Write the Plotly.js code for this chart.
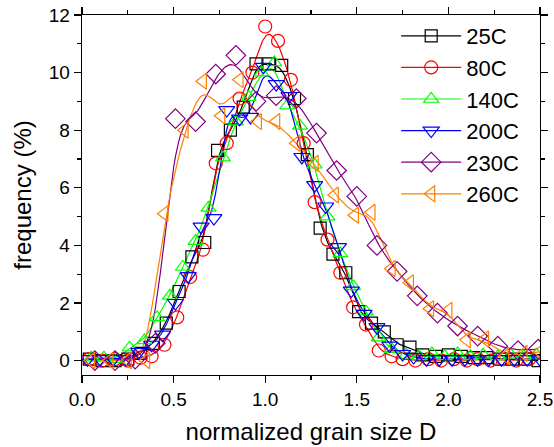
<!DOCTYPE html>
<html>
<head>
<meta charset="utf-8">
<script src="https://cdn.plot.ly/plotly-3.0.1.min.js"></script>
<style>html,body{margin:0;padding:0;background:#fff;}#chart{width:554px;height:447px;}</style>
</head>
<body>
<div id="chart"></div>
<script>
// ---- data ----
const seriesNames = ["25C", "80C", "140C", "200C", "230C", "260C"];

const x25 = [0.04,0.11,0.18,0.25,0.32,0.39,0.46,0.53,0.60,0.67,0.74,0.81,0.88,0.95,1.02,1.09,1.16,1.23,1.30,1.37,1.44,1.51,1.58,1.65,1.72,1.79,1.86,1.93,2.00,2.07,2.14,2.21,2.28,2.35,2.42,2.49];
const y25 = [0.05,0.0,0.0,0.05,0.25,0.6,1.3,2.4,3.6,4.1,7.3,8.0,8.8,10.3,10.3,10.25,9.1,7.15,4.6,3.7,3.05,1.7,1.3,1.0,0.55,0.47,0.2,0.15,0.2,0.15,0.1,0.1,0.05,0.05,0.05,0.0];

const x80 = [0.04,0.11,0.18,0.25,0.32,0.38,0.45,0.52,0.59,0.66,0.73,0.79,0.86,0.93,1.00,1.07,1.14,1.21,1.27,1.34,1.41,1.48,1.55,1.62,1.69,1.75,1.82,1.89,1.96,2.03,2.10,2.16,2.23,2.30,2.37,2.44];
const y80 = [0.05,0.0,0.05,0.0,0.1,0.15,0.55,1.5,2.9,3.85,6.85,7.55,9.1,10.0,11.6,11.1,9.75,7.55,5.5,4.2,3.05,1.85,1.25,0.35,0.15,0.05,0.0,0.05,0.0,0.05,0.0,0.05,0.0,0.05,0.0,0.05];

const x140 = [0.05,0.12,0.19,0.26,0.34,0.41,0.48,0.55,0.62,0.69,0.77,0.84,0.91,0.98,1.05,1.12,1.19,1.27,1.34,1.41,1.48,1.55,1.62,1.69,1.77,1.84,1.91,1.98,2.05,2.12,2.19,2.27,2.34,2.41,2.48];
const y140 = [0.1,0.1,0.05,0.45,0.7,1.5,2.25,3.25,4.15,5.3,7.05,8.3,9.15,10.0,10.35,8.85,8.15,6.8,5.0,3.72,2.58,1.7,0.8,0.4,0.2,0.15,0.25,0.15,0.25,0.15,0.2,0.15,0.2,0.15,0.2];

const x200 = [0.03,0.10,0.17,0.24,0.31,0.38,0.44,0.51,0.58,0.65,0.72,0.79,0.86,0.92,0.99,1.06,1.13,1.20,1.27,1.33,1.40,1.47,1.54,1.61,1.68,1.75,1.81,1.88,1.95,2.02,2.09,2.16,2.22,2.29,2.36,2.43,2.50];
const y200 = [0.05,0.05,0.05,0.05,0.3,0.55,0.9,2.0,2.93,4.65,4.95,8.7,8.4,8.46,10.2,9.6,9.18,7.07,6.09,5.35,3.94,2.43,1.62,1.16,0.52,0.23,0.12,0.05,0.05,0.05,0.05,0.05,0.05,0.05,0.05,0.05,0.05];

const x230 = [0.07,0.18,0.29,0.40,0.51,0.62,0.73,0.84,0.95,1.06,1.17,1.28,1.39,1.50,1.61,1.72,1.83,1.94,2.05,2.16,2.27,2.38,2.49];
const y230 = [0.0,0.0,0.05,0.6,8.4,8.3,9.95,10.6,9.0,9.2,9.1,7.9,6.6,5.7,4.0,3.1,2.25,1.65,1.2,0.85,0.5,0.35,0.4];

const x260 = [0.05,0.15,0.25,0.35,0.45,0.56,0.66,0.76,0.86,0.96,1.06,1.17,1.27,1.38,1.49,1.58,1.69,1.79,1.90,2.00,2.10,2.20,2.31,2.41,2.50];
const y260 = [0.0,0.0,0.0,0.0,5.1,8.0,9.7,8.5,9.75,8.3,8.3,7.55,6.85,5.75,5.05,5.15,3.2,2.7,1.8,1.75,0.72,0.75,0.15,0.25,0.3];

const xTickVals = [0, 0.5, 1.0, 1.5, 2.0, 2.5];
const yTickVals = [0, 2, 4, 6, 8, 10, 12];

// ---- styles ----
const colors = ["#000000", "#ff0000", "#00ff00", "#0000ff", "#800080", "#ff8000"];
const symbols = ["square-open", "circle-open", "triangle-up-open", "triangle-down-open", "diamond-open", "triangle-left-open"];
const msizes = [12, 13, 13, 14, 15, 14];

// uniform cubic B-spline (clamped by tripled end points) using the data as control polygon
function bspline(xs, ys, per) {
  const px = [xs[0], xs[0]].concat(xs, [xs[xs.length-1], xs[xs.length-1]]);
  const py = [ys[0], ys[0]].concat(ys, [ys[ys.length-1], ys[ys.length-1]]);
  const ox = [], oy = [];
  for (let i = 0; i + 3 < px.length; i++) {
    for (let s = 0; s < per; s++) {
      const t = s / per, t2 = t*t, t3 = t2*t;
      const b0 = (1 - t)*(1 - t)*(1 - t)/6;
      const b1 = (3*t3 - 6*t2 + 4)/6;
      const b2 = (-3*t3 + 3*t2 + 3*t + 1)/6;
      const b3 = t3/6;
      ox.push(b0*px[i] + b1*px[i+1] + b2*px[i+2] + b3*px[i+3]);
      oy.push(b0*py[i] + b1*py[i+1] + b2*py[i+2] + b3*py[i+3]);
    }
  }
  ox.push(xs[xs.length-1]); oy.push(ys[ys.length-1]);
  return [ox, oy];
}

const allX = [x25, x80, x140, x200, x230, x260];
const allY = [y25, y80, y140, y200, y230, y260];

const traces = [];
for (let i = 0; i < 6; i++) {
  const c = bspline(allX[i], allY[i], 12);
  traces.push({x: c[0], y: c[1], mode: "lines", line: {color: colors[i], width: 1.2}, showlegend: false, hoverinfo: "skip"});
}
for (let i = 0; i < 6; i++) {
  traces.push({x: allX[i], y: allY[i], mode: "markers", showlegend: false,
    marker: {symbol: symbols[i], size: msizes[i], color: colors[i], line: {width: 1.2, color: colors[i]}}});
}
for (let i = 0; i < 6; i++) {
  traces.push({x: [null], y: [null], name: seriesNames[i], mode: "lines+markers",
    line: {color: colors[i], width: 1.2},
    marker: {symbol: symbols[i], size: msizes[i], color: colors[i], line: {width: 1.2, color: colors[i]}}});
}

const font = "Liberation Sans, Arial, sans-serif";
const axisCommon = {
  showgrid: false, zeroline: false, showline: true, linecolor: "#000", linewidth: 1.3,
  mirror: "ticks", ticks: "outside", ticklen: 7, tickwidth: 1.3, tickcolor: "#000",
  tickfont: {family: font, size: 19, color: "#000"}
};

const layout = {
  width: 554, height: 447,
  margin: {l: 82, r: 14, t: 15, b: 72},
  paper_bgcolor: "#fff", plot_bgcolor: "#fff",
  font: {family: font, color: "#000"},
  xaxis: Object.assign({}, axisCommon, {
    range: [0, 2.5], tickvals: xTickVals, ticktext: xTickVals.map(v => v.toFixed(1)),
    minor: {dtick: 0.25, tick0: 0, ticks: "outside", ticklen: 4, tickwidth: 1.3, tickcolor: "#000"},
    title: {text: "normalized grain size D", font: {family: font, size: 24}, standoff: 14}
  }),
  yaxis: Object.assign({}, axisCommon, {
    range: [-0.5, 12], tickvals: yTickVals, ticktext: yTickVals.map(v => String(v)),
    minor: {dtick: 1, tick0: 0, ticks: "outside", ticklen: 4, tickwidth: 1.3, tickcolor: "#000"},
    title: {text: "frequency (%)", font: {family: font, size: 24}, standoff: 10}
  }),
  legend: {x: 0.686, y: 1.0, xanchor: "left", yanchor: "top", bgcolor: "rgba(0,0,0,0)",
    font: {family: font, size: 22, color: "#000"}, itemwidth: 60, tracegroupgap: 0},
  showlegend: true
};

Plotly.newPlot("chart", traces, layout, {displayModeBar: false, staticPlot: true});
</script>
</body>
</html>
